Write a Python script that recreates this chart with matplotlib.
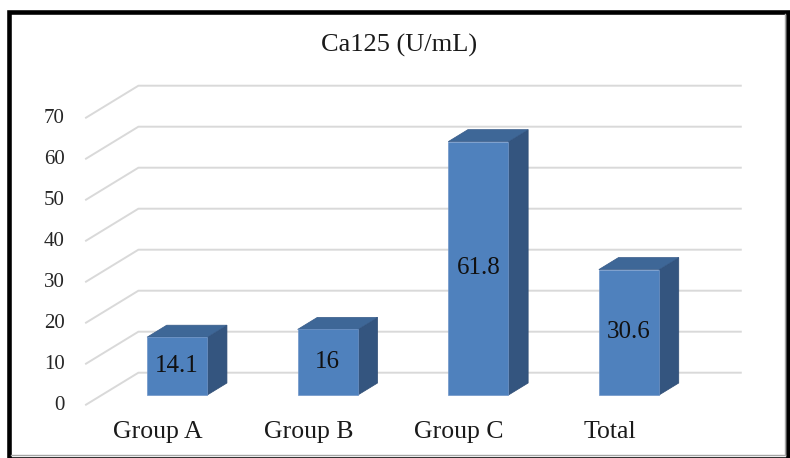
import matplotlib.pyplot as plt
from matplotlib.patches import Polygon, Rectangle
from matplotlib.lines import Line2D

categories = ["Group A", "Group B", "Group C", "Total"]
values = [14.1, 16, 61.8, 30.6]
value_labels = ["14.1", "16", "61.8", "30.6"]
yticks = [0, 10, 20, 30, 40, 50, 60, 70]
title = "Ca125 (U/mL)"

W, H = 790, 458
plt.rcParams['font.family'] = ['Liberation Serif', 'DejaVu Serif']

fig = plt.figure(figsize=(W / 100, H / 100), dpi=100)
fig.patch.set_facecolor('white')

# axes = front plane of the 3d box
ax = fig.add_axes([86 / W, (H - 404.7) / H, 602.4 / W, 287 / H])
ax.set_xlim(-0.5, 3.5)
ax.set_ylim(0, 70)
ax.axis('off')

# depth of the box, in pixels (right, up), turned into data units
depth_px = (52.4, 32.0)
p0 = ax.transData.transform((0, 0))
ddx, ddy = ax.transData.inverted().transform((p0[0] + depth_px[0], p0[1] + depth_px[1]))

def at(x, v, d):
    return (x + d * ddx, v + d * ddy)

# back wall and left wall gridlines
for v in yticks:
    pts = [at(-0.5, v, 0), at(-0.5, v, 1), at(3.5, v, 1)]
    ax.plot([p[0] for p in pts], [p[1] for p in pts], color='#D9D9D9',
            lw=1.4, clip_on=False, zorder=1)
    ax.annotate(str(v), (-0.5, v), xytext=(-15.5, -0.5), textcoords='offset points',
                ha='right', va='center', fontsize=15, color='#262626',
                annotation_clip=False)

# bars
front_d, back_d = 0.303, 0.678
bw = 0.4
front_col, top_col, side_col = '#4F81BD', '#3E6797', '#34557F'
for i, v in enumerate(values):
    xl, b = at(i - bw / 2, 0, front_d)
    xr = xl + bw
    sx = (back_d - front_d) * ddx
    sy = (back_d - front_d) * ddy
    side = Polygon([(xr, b), (xr, b + v), (xr + sx, b + v + sy), (xr + sx, b + sy)],
                   closed=True, facecolor=side_col, edgecolor='#2E4C74', lw=0.5,
                   clip_on=False, zorder=2)
    top = Polygon([(xl, b + v), (xr, b + v), (xr + sx, b + v + sy), (xl + sx, b + v + sy)],
                  closed=True, facecolor=top_col, edgecolor='#365A88', lw=0.5,
                  clip_on=False, zorder=2)
    ax.add_patch(side)
    ax.add_patch(top)
    ax.bar(xl + bw / 2, v, width=bw, bottom=b, color=front_col, edgecolor='#6E95C8',
           lw=0.5, clip_on=False, zorder=3)
    ax.text(xl + bw / 2, b + v / 2, value_labels[i], ha='center', va='center',
            fontsize=18, color='#111111', zorder=4)

# category labels along the front edge
for i, c in enumerate(categories):
    ax.annotate(c, (i, 0), xytext=(-2.5, -24), textcoords='offset points',
                ha='center', va='baseline', fontsize=18.5, color='#1a1a1a',
                annotation_clip=False)

fig.text(398.7 / W, 1 - 51.7 / H, title, ha='center', va='baseline',
         fontsize=19, color='#1a1a1a')

# outer frame
fig.add_artist(Line2D([785 / W, 785 / W], [1 - 14 / H, 1 - 455 / H],
                      transform=fig.transFigure, color='#A6A6A6', lw=1))
fig.add_artist(Line2D([11 / W, 785 / W], [1 - 455 / H, 1 - 455 / H],
                      transform=fig.transFigure, color='#A6A6A6', lw=1))
fig.add_artist(Rectangle((8.5 / W, 1 - 458.5 / H), (788 - 8.5) / W, (458.5 - 11.8) / H,
                         transform=fig.transFigure, fill=False, edgecolor='black',
                         lw=3.3))

fig.savefig('out.png', dpi=100)
